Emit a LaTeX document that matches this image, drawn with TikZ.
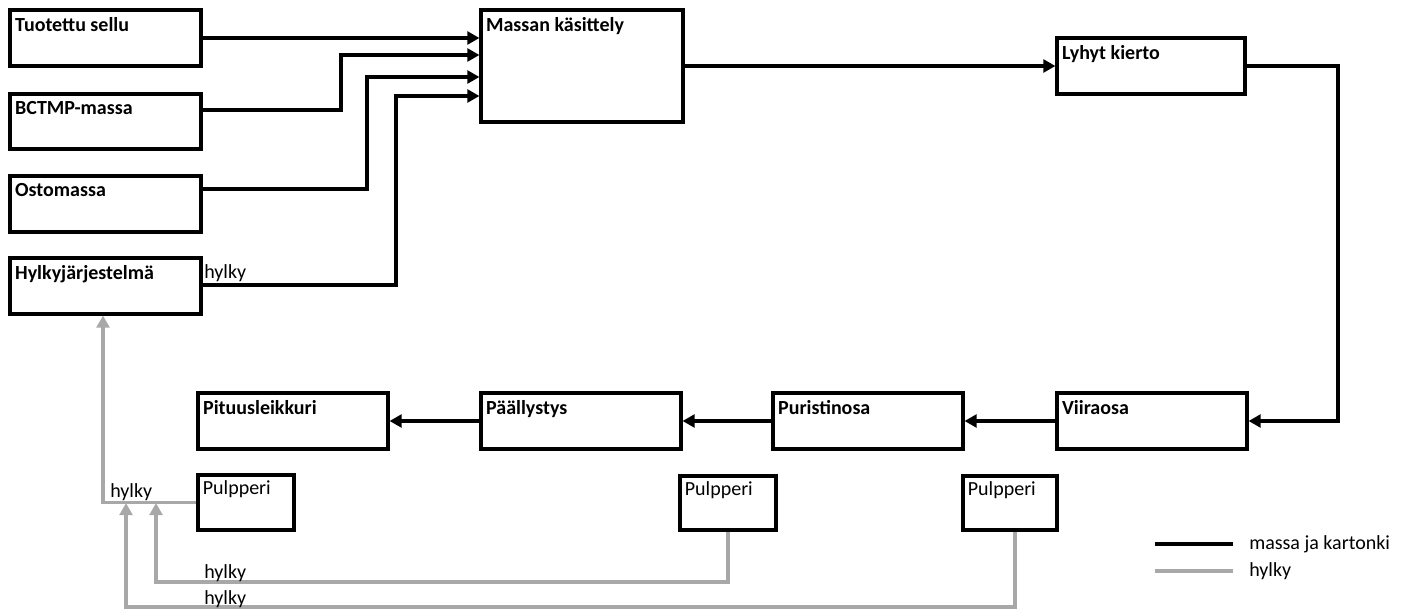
\documentclass[tikz,border=0pt]{standalone}
\usepackage{fontspec}
\setmainfont{Carlito}
\usetikzlibrary{arrows.meta,fit}
\definecolor{rejectgray}{RGB}{168,168,168}
\tikzset{
  box/.style={draw=black,line width=2.3pt,inner sep=0pt},
  title/.style={anchor=north west,inner xsep=4.8pt,inner ysep=6.3pt,
    font=\fontsize{15}{18}\selectfont\bfseries},
  ptitle/.style={anchor=north west,inner xsep=4.6pt,inner ysep=5.5pt,
    font=\fontsize{15}{18}\selectfont},
  txt/.style={inner sep=0pt,font=\fontsize{15}{18}\selectfont},
  massline/.style={draw=black,line width=2.3pt,
    -{Triangle[length=9pt,width=9.5pt]}},
  rejline/.style={draw=rejectgray,line width=2.3pt,
    -{Triangle[length=9pt,width=9.5pt]}},
}
\begin{document}
\begin{tikzpicture}[x=0.75pt,y=-0.75pt]
\useasboundingbox (0,0) rectangle (1410,610);

% raw material sources
\node[box,fit={(10,10) (201,66)},label={[title]north west:Tuotettu sellu}] (ts) {};
\node[box,fit={(10,94) (201,149)},label={[title]north west:BCTMP-massa}] (bc) {};
\node[box,fit={(10,176) (201,232)},label={[title]north west:Ostomassa}] (om) {};
\node[box,fit={(10,258) (201,314)},label={[title]north west:Hylkyjärjestelmä}] (hj) {};

% stock preparation and short circulation
\node[box,fit={(481,10) (683,122)},label={[title]north west:Massan käsittely}] (mk) {};
\node[box,fit={(1057,38) (1245,94)},label={[title]north west:Lyhyt kierto}] (lk) {};

% board machine line
\node[box,fit={(1057,393) (1247,449)},label={[title]north west:Viiraosa}] (vi) {};
\node[box,fit={(773,393) (963,449)},label={[title]north west:Puristinosa}] (pu) {};
\node[box,fit={(481,393) (681,449)},label={[title]north west:Päällystys}] (pa) {};
\node[box,fit={(198,393) (388,449)},label={[title]north west:Pituusleikkuri}] (pi) {};

% pulpers
\node[box,fit={(198,475) (294,530)},label={[ptitle]north west:Pulpperi}] (p1) {};
\node[box,fit={(680,476) (776,530)},label={[ptitle]north west:Pulpperi}] (p2) {};
\node[box,fit={(963,476) (1057,530)},label={[ptitle]north west:Pulpperi}] (p3) {};

% feeds into stock preparation
\draw[massline] (ts.east |- 0,38) -- (mk.west |- 0,38);
\draw[massline] (bc.east |- 0,110) -| (341,55) -- (mk.west |- 0,55);
\draw[massline] (om.east |- 0,189) -| (367,77) -- (mk.west |- 0,77);
\draw[massline] (hj.east |- 0,285) -| (396,96) -- (mk.west |- 0,96);
\node[txt,anchor=north west] (hl0) at (204,264) {hylky};

% main stock and board flow
\draw[massline] (mk.east |- lk.west) -- (lk.west);
\draw[massline] (lk.east) -- (1338,66) |- (vi.east);
\draw[massline] (vi.west) -- (pu.east);
\draw[massline] (pu.west) -- (pa.east);
\draw[massline] (pa.west) -- (pi.east);

% reject returns
\coordinate (j1) at (156,503);
\coordinate (j2) at (126,503);
\draw[rejline] (p1.west) -| (hj.south -| 103,0);
\draw[rejline] (p2.south) |- (156,582) -- (j1);
\draw[rejline] (p3.south -| 1015,0) |- (126,607) -- (j2);
\node[txt,anchor=north west] (hl1) at (110,483) {hylky};
\node[txt,anchor=north west] (hl2) at (204,564) {hylky};
\node[txt,anchor=north west] (hl3) at (204,590) {hylky};

% legend
\coordinate (lga) at (1155,544);
\coordinate (lgb) at (1233,544);
\coordinate (lgc) at (1155,571);
\coordinate (lgd) at (1233,571);
\draw[black,line width=2.3pt] (lga) -- (lgb);
\draw[rejectgray,line width=2.3pt] (lgc) -- (lgd);
\node[txt,anchor=west] (lt1) at (1249,544) {massa ja kartonki};
\node[txt,anchor=west] (lt2) at (1249,571) {hylky};
\end{tikzpicture}
\end{document}
